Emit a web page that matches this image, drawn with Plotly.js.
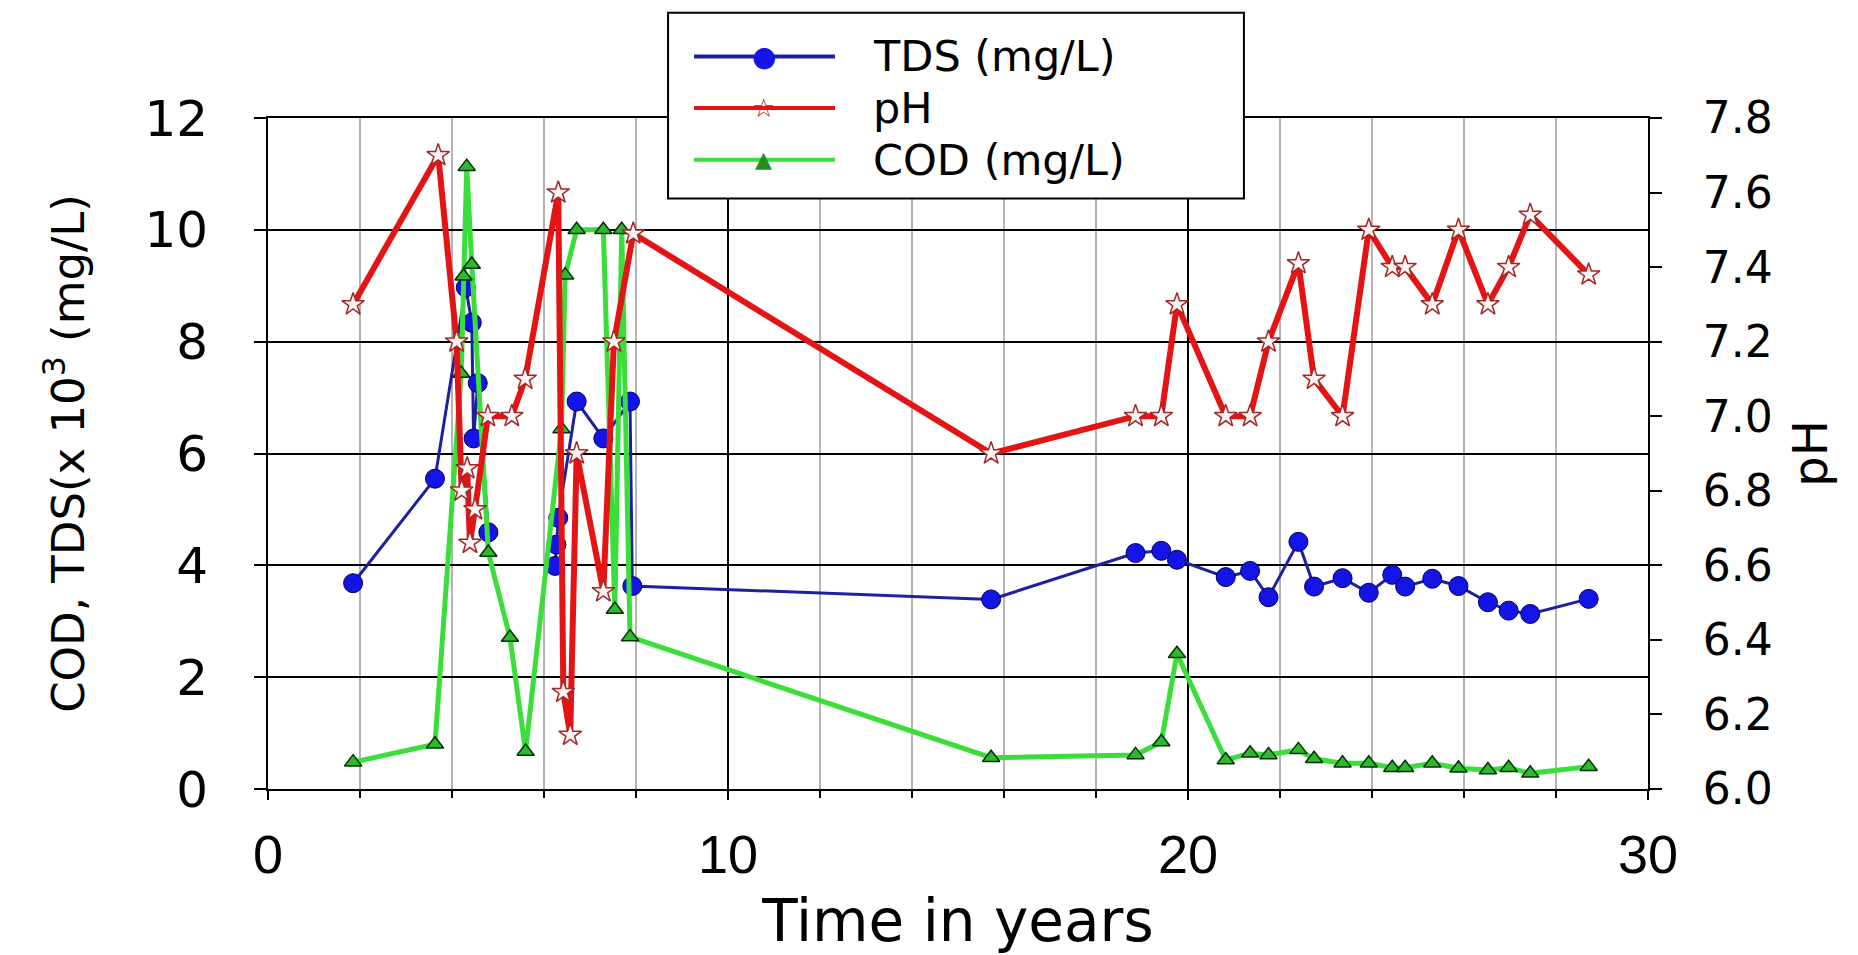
<!DOCTYPE html>
<html>
<head>
<meta charset="utf-8">
<script src="https://cdn.plot.ly/plotly-3.0.1.min.js"></script>
<style>
  html, body { margin: 0; padding: 0; background: #ffffff; }
  #chart { width: 1858px; height: 955px; }
</style>
</head>
<body>
<div id="chart"></div>
<script>
// ---- data ----
const seriesNames = ["TDS (mg/L)", "pH", "COD (mg/L)"];

const tdsYears = [1.85, 3.63, 4.30, 4.43, 4.47, 4.56, 4.79, 5.5, 6.24, 6.27, 6.31, 6.71, 7.29, 7.87, 7.92,
  15.72, 18.86, 19.42, 19.76, 20.82, 21.35, 21.75, 22.40, 22.74, 23.36, 23.93, 24.44, 24.72, 25.31, 25.88, 26.52, 26.97, 27.44, 28.71];
const tdsValues = [3.68, 5.55, 8.97, 8.34, 6.27, 7.26, 4.59, null, 3.99, 4.37, 4.85, 6.93, 6.27, 6.93, 3.63,
  3.39, 4.22, 4.26, 4.10, 3.79, 3.90, 3.43, 4.42, 3.62, 3.77, 3.51, 3.83, 3.62, 3.76, 3.63, 3.34, 3.19, 3.13, 3.40];

const phYears = [1.85, 3.70, 4.10, 4.21, 4.33, 4.39, 4.50, 4.78, 5.30, 5.59, 6.31, 6.42, 6.57, 6.71, 7.29, 7.52, 7.94,
  15.72, 18.86, 19.42, 19.76, 20.82, 21.35, 21.75, 22.40, 22.74, 23.36, 23.93, 24.44, 24.72, 25.31, 25.88, 26.52, 26.97, 27.44, 28.71];
const phValues = [7.30, 7.70, 7.20, 6.80, 6.86, 6.66, 6.75, 7.00, 7.00, 7.10, 7.60, 6.26, 6.145, 6.90, 6.53, 7.20, 7.49,
  6.90, 7.00, 7.00, 7.30, 7.00, 7.00, 7.20, 7.41, 7.10, 7.00, 7.50, 7.40, 7.40, 7.30, 7.50, 7.30, 7.40, 7.54, 7.38];

const codYears = [1.85, 3.63, 4.20, 4.25, 4.32, 4.43, 4.79, 5.26, 5.60, 6.38, 6.46, 6.71, 7.29, 7.54, 7.69, 7.87,
  15.72, 18.86, 19.42, 19.76, 20.82, 21.35, 21.75, 22.40, 22.74, 23.36, 23.93, 24.44, 24.72, 25.31, 25.88, 26.52, 26.97, 27.44, 28.71];
const codValues = [0.48, 0.80, 7.43, 9.17, 11.13, 9.38, 4.23, 2.71, 0.67, 6.44, 9.19, 10.0, 10.0, 3.21, 10.0, 2.72,
  0.56, 0.61, 0.84, 2.42, 0.52, 0.64, 0.61, 0.70, 0.54, 0.46, 0.46, 0.38, 0.38, 0.46, 0.37, 0.34, 0.38, 0.28, 0.40];

const xTickValues = [0, 10, 20, 30];
const xTickLabels = ["0", "10", "20", "30"];

// ---- styling ----
const colTDSLine = "#1f1fa0", colTDSMark = "#1414e6";
const colPHLine = "#e41414";
const colCODLine = "#3ade3a", colCODMark = "#2fb82f";
const FONT = "DejaVu Sans, Arial, sans-serif";
const ARIAL = "Liberation Sans, Arial, sans-serif";

const traces = [
  {
    x: tdsYears, y: tdsValues, name: seriesNames[0], type: "scatter", mode: "lines+markers",
    line: {color: colTDSLine, width: 3},
    marker: {symbol: "circle", size: 19, color: colTDSMark, line: {color: "#000060", width: 1}},
    xaxis: "x", yaxis: "y", showlegend: false
  },
  {
    x: phYears, y: phValues, name: seriesNames[1], type: "scatter", mode: "lines+markers",
    line: {color: colPHLine, width: 6},
    marker: {symbol: "star", size: 17, color: "#fff4f4", line: {color: "#a02828", width: 1.5}},
    xaxis: "x", yaxis: "y2", showlegend: false
  },
  {
    x: codYears, y: codValues, name: seriesNames[2], type: "scatter", mode: "lines+markers",
    line: {color: colCODLine, width: 5},
    marker: {symbol: "triangle-up", size: 15, color: colCODMark, line: {color: "#003300", width: 1.5}},
    xaxis: "x", yaxis: "y", showlegend: false
  }
];

// legend geometry (paper coords)
const lgX0 = 0.2899, lgX1 = 0.7072, lgY0 = 0.880, lgY1 = 1.157;
const lgLineX0 = 0.3087, lgLineX1 = 0.4109, lgMarkX = 0.3594, lgTextX = 0.4370;
const lgRows = [1.0918, 1.0148, 0.9378];
const lgColors = [colTDSLine, colPHLine, colCODLine];
const lgGlyphs = ["●", "☆", "▲"];
const lgGlyphColors = [colTDSMark, "#b02020", "#1f8f1f"];
const lgGlyphSize = [28, 26, 22];

const shapes = [{
  type: "rect", xref: "paper", yref: "paper", x0: lgX0, x1: lgX1, y0: lgY0, y1: lgY1,
  line: {color: "#000", width: 2}, fillcolor: "#fff", layer: "above"
}];
const annotations = [];
lgRows.forEach((yy, i) => {
  shapes.push({type: "line", xref: "paper", yref: "paper", x0: lgLineX0, x1: lgLineX1, y0: yy, y1: yy,
    line: {color: lgColors[i], width: 4}, layer: "above"});
  annotations.push({xref: "paper", yref: "paper", x: lgMarkX, y: yy, text: lgGlyphs[i], showarrow: false,
    xanchor: "center", yanchor: "middle", font: {family: FONT, size: lgGlyphSize[i], color: lgGlyphColors[i]}});
  annotations.push({xref: "paper", yref: "paper", x: lgTextX, y: yy, text: seriesNames[i], showarrow: false,
    xanchor: "left", yanchor: "middle", font: {family: FONT, size: 43, color: "#000"}});
});

const layout = {
  width: 1858, height: 955,
  margin: {l: 268, r: 210, t: 118, b: 166, pad: 0},
  paper_bgcolor: "#fff", plot_bgcolor: "#fff",
  showlegend: false,
  xaxis: {
    range: [0, 30], tickvals: xTickValues, ticktext: xTickLabels,
    showgrid: true, gridcolor: "#000", gridwidth: 2,
    showline: true, linecolor: "#000", linewidth: 2, mirror: true,
    ticks: "outside", ticklen: 9, tickwidth: 2, tickcolor: "#000",
    ticklabelstandoff: 8,
    tickfont: {family: ARIAL, size: 54, color: "#000"},
    minor: {dtick: 2, showgrid: true, gridcolor: "#b4b4b4", gridwidth: 2, ticks: "outside", ticklen: 7, tickcolor: "#000", tickwidth: 1.5},
    zeroline: false,
    title: {text: "Time in years", font: {family: FONT, size: 58, color: "#000"}, standoff: 73}
  },
  yaxis: {
    range: [0, 12], dtick: 2,
    showgrid: true, gridcolor: "#000", gridwidth: 2,
    showline: true, linecolor: "#000", linewidth: 2,
    ticks: "outside", ticklen: 12, tickwidth: 2, tickcolor: "#000",
    ticklabelstandoff: 36,
    tickfont: {family: FONT, size: 50, color: "#000"},
    zeroline: false,
    title: {text: "COD, TDS(x 10<sup>3</sup> (mg/L)", font: {family: FONT, size: 45, color: "#000"}, standoff: 46}
  },
  yaxis2: {
    overlaying: "y", side: "right", anchor: "x",
    range: [6.0, 7.8], dtick: 0.2, tickformat: ".1f",
    showgrid: false, zeroline: false,
    showline: true, linecolor: "#000", linewidth: 2,
    ticks: "outside", ticklen: 12, tickwidth: 2, tickcolor: "#000",
    ticklabelstandoff: 32,
    tickfont: {family: FONT, size: 44, color: "#000"},
    title: {text: "pH", font: {family: FONT, size: 48, color: "#000"}, standoff: 22}
  },
  shapes: shapes,
  annotations: annotations
};

Plotly.newPlot("chart", traces, layout, {staticPlot: true, displayModeBar: false});
</script>
</body>
</html>
